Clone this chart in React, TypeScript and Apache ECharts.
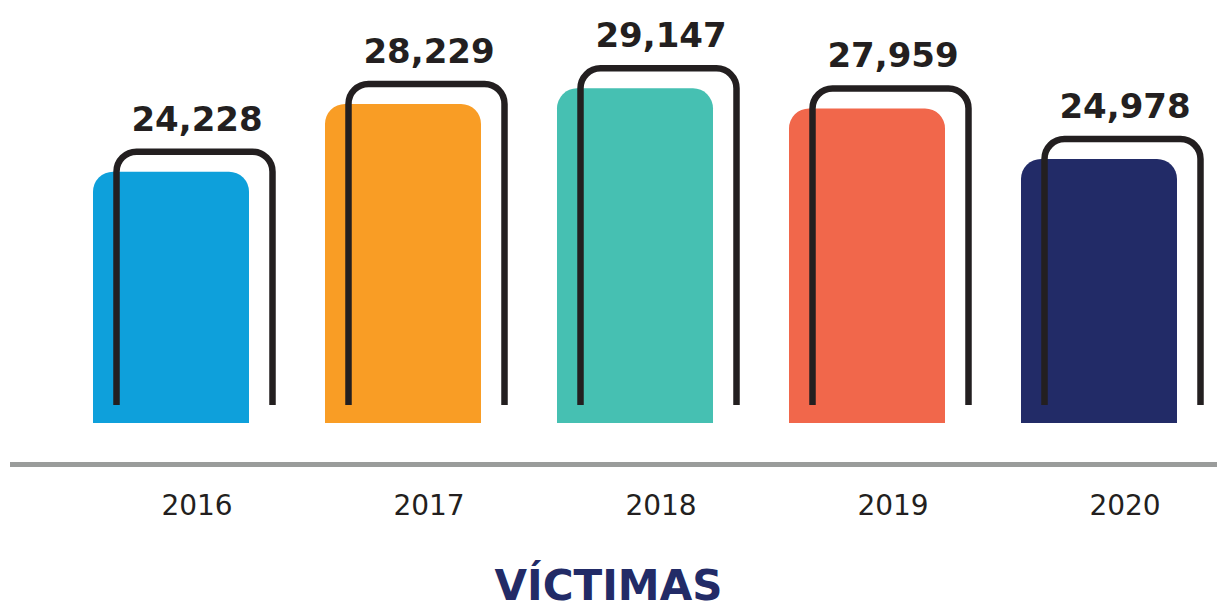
import React, { useEffect, useRef } from "react";
import * as echarts from "echarts";

const categories = ["2016", "2017", "2018", "2019", "2020"];
const victimas = [24228, 28229, 29147, 27959, 24978];
const barColors = ["#0ea0db", "#f99d25", "#46c0b2", "#f1674b", "#222b67"];
const titleText = "VÍCTIMAS";

const Y_MIN = 9400;
const Y_MAX = 32000;

export default function App() {
  const ref = useRef<HTMLDivElement>(null);
  useEffect(() => {
    if (!ref.current) return;
    const chart = echarts.init(ref.current, undefined, { renderer: "svg" });
    const fmt = (v: number) => v.toLocaleString("en-US");
    chart.setOption({
      animation: false,
      backgroundColor: "#ffffff",
      grid: { left: 55, right: 2, top: 40, bottom: 189, containLabel: false },
      title: {
        text: titleText,
        left: "center",
        top: 564,
        padding: 0,
        textStyle: {
          fontFamily: "DejaVu Sans",
          fontWeight: "bold",
          fontSize: 42,
          lineHeight: 42,
          color: "#222b67",
        },
      },
      xAxis: {
        type: "category",
        data: categories,
        axisLine: { show: false },
        axisTick: { show: false },
        axisLabel: {
          margin: 68,
          padding: [0, 0, 0, 52],
          fontFamily: "DejaVu Sans",
          fontSize: 28,
          color: "#231f20",
        },
      },
      yAxis: {
        type: "value",
        min: Y_MIN,
        max: Y_MAX,
        show: false,
        splitLine: { show: false },
      },
      graphic: [
        {
          type: "line",
          shape: { x1: 10, y1: 464.5, x2: 1217, y2: 464.5 },
          style: { stroke: "#9a9c9b", lineWidth: 5 },
          z: 1,
        },
      ],
      series: [
        {
          type: "bar",
          barWidth: 156,
          data: victimas.map((v, i) => ({
            value: v,
            itemStyle: { color: barColors[i], borderRadius: [20, 20, 0, 0] },
          })),
          z: 2,
        },
        {
          type: "custom",
          z: 5,
          clip: false,
          data: victimas.map((v, i) => [i, v]),
          renderItem: (params: any, api: any) => {
            const idx = api.value(0);
            const val = api.value(1);
            const top = api.coord([idx, val]);
            const base = api.coord([idx, Y_MIN]);
            const cx = top[0];
            const l = cx - 78 + 23.5;
            const r = cx + 78 + 23.5;
            const t = top[1] - 20;
            const b = base[1] - 18;
            const rad = 20;
            const d = `M${l},${b} L${l},${t + rad} A${rad},${rad} 0 0 1 ${l + rad},${t} L${r - rad},${t} A${rad},${rad} 0 0 1 ${r},${t + rad} L${r},${b}`;
            return {
              type: "group",
              children: [
                {
                  type: "path",
                  shape: { pathData: d },
                  style: { fill: "none", stroke: "#231f20", lineWidth: 6.5 },
                },
                {
                  type: "text",
                  x: cx + 26,
                  y: t - 33,
                  style: {
                    text: fmt(val),
                    fontFamily: "DejaVu Sans",
                    fontWeight: "bold",
                    fontSize: 34,
                    fill: "#231f20",
                    align: "center",
                    verticalAlign: "middle",
                  },
                },
              ],
            };
          },
        },
      ],
    });
    return () => chart.dispose();
  }, []);
  return (
    <div
      ref={ref}
      style={{ position: "fixed", left: 0, top: 0, width: 1217, height: 612 }}
    />
  );
}
